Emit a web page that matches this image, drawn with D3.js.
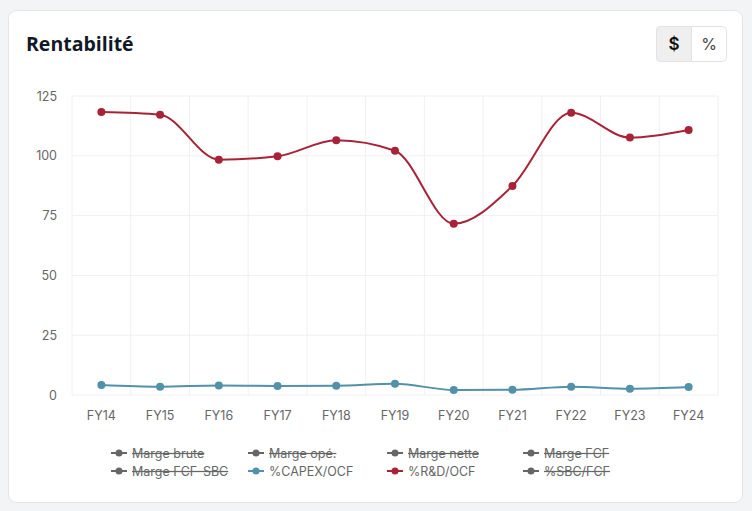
<!DOCTYPE html>
<html><head><meta charset="utf-8">
<script src="https://cdn.jsdelivr.net/npm/d3@7/dist/d3.min.js"></script>
<style>
html,body{margin:0;padding:0;background:#f3f4f6;}
body{width:752px;height:511px;overflow:hidden;font-family:Inter,"Noto Sans",sans-serif;}
</style></head><body>
<svg id="chart" width="752" height="511"></svg>
<script>
const categories = ["FY14","FY15","FY16","FY17","FY18","FY19","FY20","FY21","FY22","FY23","FY24"];
const capexOcf = [4.2, 3.5, 4.0, 3.8, 3.9, 4.7, 2.1, 2.2, 3.5, 2.6, 3.3];
const rdOcf = [118.3, 117.2, 98.4, 99.8, 106.5, 102.1, 71.6, 87.4, 118.0, 107.6, 110.8];
const yTicks = [0, 25, 50, 75, 100, 125];
const legendItems = ["Marge brute","Marge opé.","Marge nette","Marge FCF","Marge FCF-SBC","%CAPEX/OCF","%R&D/OCF","%SBC/FCF"];
const legendActive = [false,false,false,false,false,true,true,false];
const legendColors = ["#666","#666","#666","#666","#666","#5191a9","#a82337","#666"];

const svg = d3.select("#chart");
// card
svg.append("rect").attr("x",8.5).attr("y",10.5).attr("width",734).attr("height",492)
  .attr("rx",8).attr("fill","#fff").attr("stroke","#e3e5e8");
svg.append("text").attr("x",26).attr("y",51).text("Rentabilité")
  .attr("font-family","'Open Sans',sans-serif").attr("font-weight",700).attr("font-size",19.5).attr("fill","#111827");

// toggle
const tg = svg.append("g");
tg.append("rect").attr("x",656.5).attr("y",26.5).attr("width",70).attr("height",35).attr("rx",4)
  .attr("fill","#fff").attr("stroke","#e2e2e2");
tg.append("path").attr("d","M660.5,26.5 h31 v35 h-31 a4,4 0 0 1 -4,-4 v-27 a4,4 0 0 1 4,-4 z")
  .attr("fill","#efefef").attr("stroke","#e2e2e2");
tg.append("text").attr("x",674).attr("y",50).attr("text-anchor","middle").text("$")
  .attr("font-size",17).attr("font-weight",600).attr("fill","#111");
tg.append("text").attr("x",709).attr("y",50).attr("text-anchor","middle").text("%")
  .attr("font-size",16).attr("fill","#444");

const pL=72, pR=718, pT=96, pB=395;
const x = d3.scaleBand().domain(categories).range([pL,pR]);
const y = d3.scaleLinear().domain([0,125]).range([pB,pT]);
const g = svg.append("g");

// gridlines
g.selectAll(".hg").data(yTicks).join("line")
  .attr("x1",pL).attr("x2",pR).attr("y1",d=>y(d)).attr("y2",d=>y(d))
  .attr("stroke","#f0f0f0").attr("stroke-width",1);
const vb = categories.map(c=>x(c)).concat([pR]);
g.selectAll(".vg").data(vb).join("line")
  .attr("x1",d=>d).attr("x2",d=>d).attr("y1",pT).attr("y2",pB)
  .attr("stroke","#f0f0f0").attr("stroke-width",1);

// axes
const yAxis = d3.axisLeft(y).tickValues(yTicks).tickSize(0).tickPadding(15);
const ya = g.append("g").attr("transform",`translate(${pL},0)`).call(yAxis);
ya.select(".domain").remove();
ya.selectAll("text").attr("font-family","Inter,sans-serif").attr("font-size",12.5).attr("fill","#666");
const xAxis = d3.axisBottom(x).tickSize(0).tickPadding(16);
const xa = g.append("g").attr("transform",`translate(0,${pB})`).call(xAxis);
xa.select(".domain").remove();
xa.selectAll("text").attr("font-family","Inter,sans-serif").attr("font-size",12.5).attr("fill","#666");

const cx = c => x(c)+x.bandwidth()/2;
const line = d3.line().x((d,i)=>cx(categories[i])).y(d=>y(d)).curve(d3.curveMonotoneX);
function series(vals,color){
  g.append("path").datum(vals).attr("d",line).attr("fill","none").attr("stroke",color).attr("stroke-width",2);
  g.selectAll(null).data(vals).join("circle").attr("cx",(d,i)=>cx(categories[i])).attr("cy",d=>y(d))
    .attr("r",4).attr("fill",color);
}
series(capexOcf,"#5191a9");
series(rdOcf,"#a82337");

// legend
const colX=[132,269,408,544], rowY=[453,471];
legendItems.forEach((name,i)=>{
  const lx=colX[i%4], ly=rowY[Math.floor(i/4)];
  const col=legendColors[i];
  const lg=svg.append("g");
  lg.append("line").attr("x1",lx-21).attr("x2",lx-5).attr("y1",ly).attr("y2",ly).attr("stroke",col).attr("stroke-width",2);
  lg.append("circle").attr("cx",lx-13).attr("cy",ly).attr("r",3.5).attr("fill",col);
  lg.append("text").attr("x",lx).attr("y",ly+4.5).text(name).attr("font-size",12.5)
    .attr("font-family","Inter,sans-serif").attr("fill","#666")
    .attr("text-decoration",legendActive[i]?"none":"line-through");
});
</script>
</body></html>
